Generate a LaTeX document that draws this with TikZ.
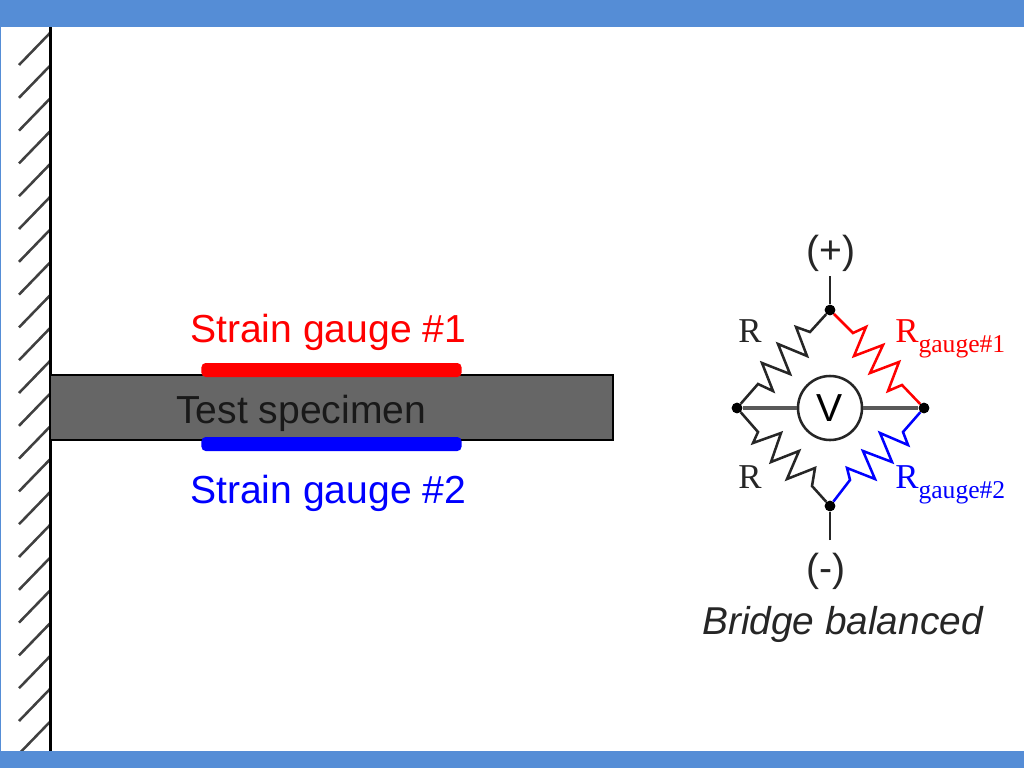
\documentclass[tikz,border=0pt]{standalone}
\usepackage{fontspec}
\setmainfont{Liberation Sans}
\newfontfamily\serifface{Liberation Serif}
\definecolor{slideblue}{HTML}{558DD6}
\definecolor{specimengray}{HTML}{666666}
\tikzset{
  label sans/.style={inner sep=0pt,anchor=base west,font=\fontsize{27.8}{30}\selectfont},
  label ohm/.style={inner sep=0pt,anchor=base west,font=\serifface\fontsize{24.8}{27}\selectfont},
  wire/.style={line width=1.8pt,line join=miter},
  dot/.style={circle,fill=black,inner sep=0pt,minimum size=7.5pt}
}
\newcommand{\gaugesub}[1]{\raisebox{-7.8pt}{\fontsize{18.2}{20}\selectfont gauge\##1}}
\begin{document}
\begin{tikzpicture}[x=0.025cm,y=-0.025cm]
      \useasboundingbox (0,0) rectangle (1024,768);
      \fill[color=white] (0,0) rectangle (1024,768);
      % wall
      \foreach \k in {0,...,21}
        \draw[line width=1.8pt,color=black!75] (50,33+32.8*\k) -- (19,65+32.8*\k);
      \draw[color=black,line width=2.8pt] (50.5,27) -- (50.5,751);
      % specimen and gauges
      \node[draw=black,line width=1.4pt,fill=specimengray,inner sep=0pt,
        minimum width=14.07cm,minimum height=1.625cm] (bar) at (331.5,407.5) {};
      \node[fill=red,rounded corners=3pt,inner sep=0pt,
        minimum width=6.5cm,minimum height=0.35cm] (gaugetop) at (331.5,370) {};
      \node[fill=blue,rounded corners=3pt,inner sep=0pt,
        minimum width=6.5cm,minimum height=0.35cm] (gaugebot) at (331.5,444) {};
      \node[label sans,color=red] (gaugetoptext) at (190,342) {Strain gauge \#1};
      \node[label sans,color=blue] (gaugebottext) at (190,503) {Strain gauge \#2};
      \node[label sans,color=black!90] (bartext) at (176,423) {Test specimen};
      % bridge
      \node[dot] (ntop) at (830,310) {};
      \node[dot] (nleft) at (737,408) {};
      \node[dot] (nright) at (924,408) {};
      \node[dot] (nbot) at (830,506) {};
      \node[circle,draw=black!85,line width=1.8pt,fill=white,inner sep=0pt,
        minimum size=1.6cm,font=\fontsize{27.8}{30}\selectfont] (meter) at (830,408) {V};
      \draw[color=black!65,line width=2.2pt] (nleft) -- (meter);
      \draw[color=black!65,line width=2.2pt] (meter) -- (nright);
      \coordinate (leadtop) at (830,276);
      \coordinate (leadbot) at (830,540);
      \draw[wire,color=black!85] (leadtop) -- (ntop);
      \draw[wire,color=black!85] (leadbot) -- (nbot);
      \draw[wire,color=black!85] (ntop) -- (810,332) -- (796,327) -- (807,356)
      -- (778,344) -- (790,374) -- (762,363) -- (773,391) -- (758,384) -- (nleft);
      \draw[wire,color=red] (ntop) -- (853,333) -- (866,327) -- (854,356)
      -- (883,345) -- (870,373) -- (899,362) -- (888,391) -- (902,385) -- (nright);
      \draw[wire,color=black!85] (nleft) -- (758,432) -- (753,443) -- (781,433)
      -- (771,462) -- (799,451) -- (787,479) -- (815,468) -- (812,486) -- (nbot);
      \draw[wire,color=blue] (nbot) -- (850,480) -- (847,468) -- (875,479)
      -- (863,451) -- (892,462) -- (880,433) -- (908,445) -- (903,432) -- (nright);
      \node[dot] at (ntop) {};
      \node[dot] at (nleft) {};
      \node[dot] at (nright) {};
      \node[dot] at (nbot) {};
      \node[label sans,anchor=base,color=black!85] (plus) at (831,263) {(+)};
      \node[label sans,anchor=base,color=black!85] (minus) at (826,581) {(-)};
      \node[label ohm,color=black!85] (rone) at (738,342) {R};
      \node[label ohm,color=black!85] (rtwo) at (738,488) {R};
      \node[label ohm,color=red] (rgone) at (895,342) {R\gaugesub{1}};
      \node[label ohm,color=blue] (rgtwo) at (895,488) {R\gaugesub{2}};
      \node[label sans,color=black!85,font=\itshape\fontsize{27.6}{30}\selectfont] (caption) at (702,634) {Bridge balanced};
      % slide frame
      \fill[color=slideblue] (0,0) rectangle (1024,27.5);
      \fill[color=slideblue] (0,751) rectangle (1024,768);
      \fill[color=slideblue] (0,0) rectangle (1,768);
    \end{tikzpicture}
\end{document}
